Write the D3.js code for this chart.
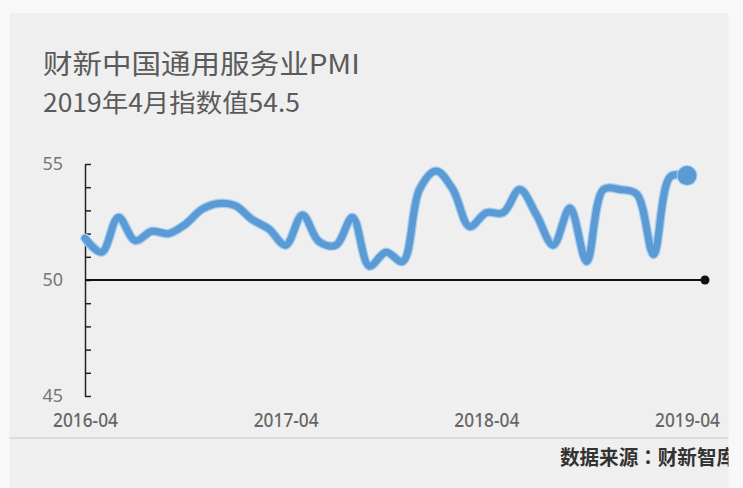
<!DOCTYPE html>
<html><head><meta charset="utf-8">
<script src="https://cdn.jsdelivr.net/npm/d3@7"></script>
<style>body{margin:0;background:#f8f8f8}svg{display:block}</style>
</head><body><svg id="c" width="743" height="488"></svg>
<script>
const months = ["2016-04","2016-05","2016-06","2016-07","2016-08","2016-09","2016-10","2016-11","2016-12",
"2017-01","2017-02","2017-03","2017-04","2017-05","2017-06","2017-07","2017-08","2017-09","2017-10","2017-11","2017-12",
"2018-01","2018-02","2018-03","2018-04","2018-05","2018-06","2018-07","2018-08","2018-09","2018-10","2018-11","2018-12",
"2019-01","2019-02","2019-03","2019-04"];
const pmi = [51.8,51.2,52.7,51.7,52.1,52.0,52.4,53.05,53.3,
53.2,52.6,52.2,51.5,52.8,51.65,51.5,52.7,50.6,51.2,50.8,53.9,
54.7,53.9,52.3,52.9,52.9,53.9,52.8,51.5,53.1,50.8,53.9,53.9,
53.7,51.1,54.45,54.5];
const xTickLabels = ["2016-04","2017-04","2018-04","2019-04"];
const yTickLabels = [45,50,55];
const title = "财新中国通用服务业PMI";
const subtitle = "2019年4月指数值54.5";
const sourceParts = ["数据来源", "：", "财新智库"];

const svg = d3.select("#c");
const defs = svg.append("defs");
defs.append("clipPath").attr("id","panel").append("rect").attr("x",9.5).attr("y",13).attr("width",719).attr("height",475);
svg.append("rect").attr("x",9.5).attr("y",13).attr("width",719).attr("height",475).attr("fill","#efefef");

const cjk = "'Noto Sans CJK SC','Noto Sans',sans-serif";
svg.append("text").attr("x",43).attr("y",74).attr("font-family",cjk).attr("font-size",27)
  .attr("fill","#5a5a5a").attr("textLength",317).attr("lengthAdjust","spacingAndGlyphs").text(title);
svg.append("text").attr("x",43).attr("y",112).attr("font-family",cjk).attr("font-size",25)
  .attr("fill","#5a5a5a").attr("textLength",257).attr("lengthAdjust","spacingAndGlyphs").text(subtitle);

const x = d3.scalePoint().domain(months).range([85,687]);
const y = d3.scaleLinear().domain([45,55]).range([396,164]);

// y axis
const ya = svg.append("g").attr("transform","translate(85,0)")
  .call(d3.axisLeft(y).tickValues(d3.range(45,56)).tickSizeInner(-6).tickSizeOuter(0).tickPadding(22)
    .tickFormat(d => yTickLabels.includes(d) ? d : ""));
ya.select(".domain").attr("stroke","#222").attr("stroke-width",1.5);
ya.selectAll(".tick line").attr("stroke","#222").attr("stroke-width",1.5);
ya.selectAll(".tick text").attr("font-family","'Noto Sans',sans-serif").attr("font-size",18).attr("fill","#777");

// x axis labels
const xa = svg.append("g").attr("transform","translate(0,413.5)")
  .call(d3.axisBottom(x).tickValues(xTickLabels).tickSize(0).tickPadding(0));
xa.select(".domain").remove();
xa.selectAll(".tick text").attr("dy","0.71em").attr("font-family","'Noto Sans',sans-serif").attr("font-size",19)
  .attr("font-weight",500).attr("fill","#666").attr("textLength",65).attr("lengthAdjust","spacingAndGlyphs");

// 50 baseline
svg.append("line").attr("x1",x(months[0])).attr("x2",705).attr("y1",y(50)).attr("y2",y(50))
  .attr("stroke","#111").attr("stroke-width",2);
svg.append("circle").attr("cx",705).attr("cy",y(50)).attr("r",4.5).attr("fill","#111");

// line
const line = d3.line().x((d,i)=>x(months[i])).y(d=>y(d)).curve(d3.curveCatmullRom.alpha(0.5));
svg.append("path").datum(pmi).attr("d",line).attr("fill","none").attr("stroke","#a9cdee")
  .attr("stroke-width",9.5).attr("stroke-linejoin","round").attr("stroke-linecap","round");
svg.append("path").datum(pmi).attr("d",line).attr("fill","none").attr("stroke","#5b9bd5")
  .attr("stroke-width",7).attr("stroke-linejoin","round").attr("stroke-linecap","round");
const last = pmi.length-1;
svg.append("circle").attr("cx",x(months[last])).attr("cy",y(pmi[last])).attr("r",10.5).attr("fill","#a9cdee");
svg.append("circle").attr("cx",x(months[last])).attr("cy",y(pmi[last])).attr("r",9.5).attr("fill","#5b9bd5");

// separator and source
svg.append("rect").attr("x",9.5).attr("y",437).attr("width",719).attr("height",2).attr("fill","#dcdcdc");
const src = svg.append("g").attr("clip-path","url(#panel)").append("text").attr("x",560).attr("y",465)
  .attr("font-family",cjk).attr("font-size",20).attr("font-weight","bold").attr("fill","#333")
  .attr("textLength",176).attr("lengthAdjust","spacingAndGlyphs");
src.selectAll("tspan").data(sourceParts).join("tspan")
  .attr("font-family",(d,i)=> i===1 ? "'Noto Sans CJK TC',sans-serif" : null).text(d=>d);
</script></body></html>
